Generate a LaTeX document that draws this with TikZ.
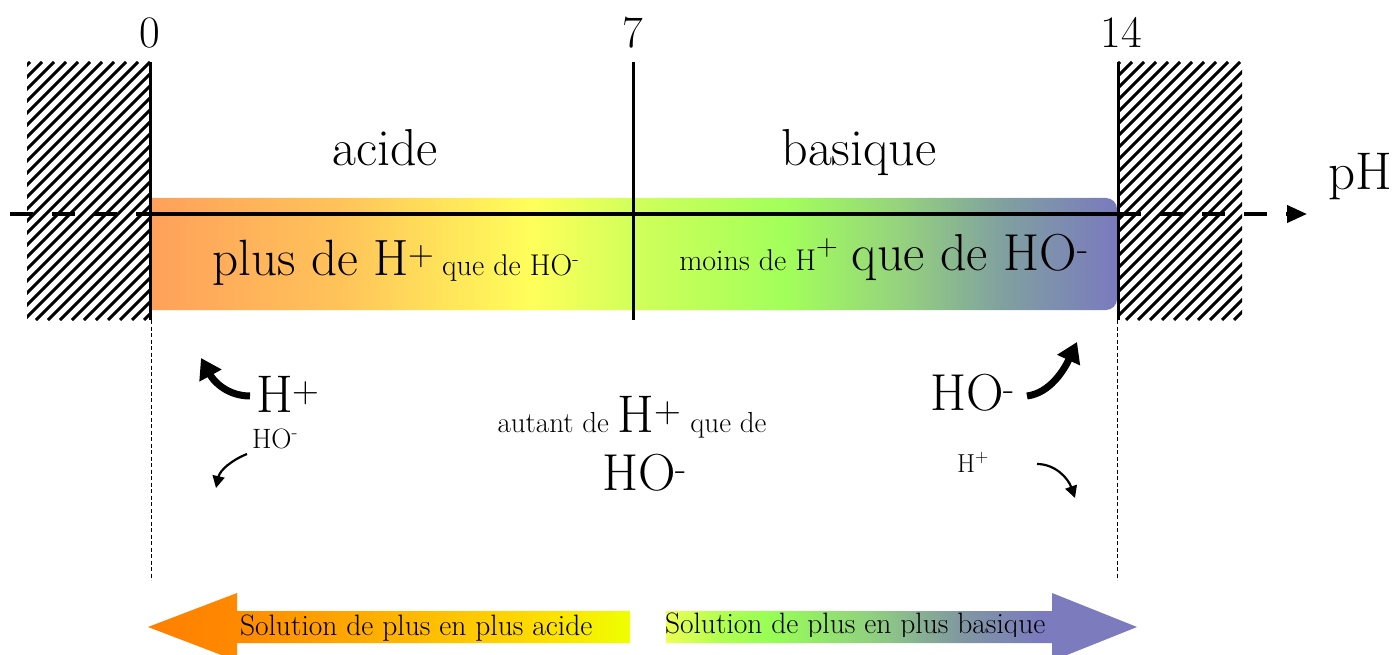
\documentclass[tikz,border=0pt]{standalone}
\usetikzlibrary{arrows.meta}
\definecolor{b1}{HTML}{FFA05A}
\definecolor{b2}{HTML}{FFC35A}
\definecolor{b3}{HTML}{FFFF5A}
\definecolor{b4}{HTML}{D2FF5A}
\definecolor{b5}{HTML}{A2FF5A}
\definecolor{b6}{HTML}{95D27E}
\definecolor{b7}{HTML}{80A0A0}
\definecolor{b8}{HTML}{7A7ABE}
\definecolor{l1}{HTML}{FF7F00}
\definecolor{l2}{HTML}{FF8A00}
\definecolor{l3}{HTML}{FFBB00}
\definecolor{l4}{HTML}{FFDD00}
\definecolor{l5}{HTML}{EEFF00}
\definecolor{r1}{HTML}{EEFF55}
\definecolor{r2}{HTML}{B0FF50}
\definecolor{r3}{HTML}{98FF55}
\definecolor{r4}{HTML}{90D080}
\definecolor{r5}{HTML}{8098A0}
\definecolor{r6}{HTML}{7B7BBE}
\pgfdeclarehorizontalshading{phbar}{100bp}{color(0bp)=(b1); color(25bp)=(b1); color(34.8bp)=(b2); color(44.8bp)=(b3); color(49.9bp)=(b4); color(57.9bp)=(b5); color(63.8bp)=(b6); color(69.1bp)=(b7); color(75bp)=(b8); color(100bp)=(b8)}
\pgfdeclarehorizontalshading{acidarr}{100bp}{color(0bp)=(l1); color(25bp)=(l1); color(34.5bp)=(l2); color(53.2bp)=(l3); color(65.7bp)=(l4); color(75bp)=(l5); color(100bp)=(l5)}
\pgfdeclarehorizontalshading{basarr}{100bp}{color(0bp)=(r1); color(25bp)=(r1); color(31bp)=(r2); color(36bp)=(r3); color(46.7bp)=(r4); color(56.2bp)=(r5); color(64.7bp)=(r6); color(75bp)=(r6); color(100bp)=(r6)}
\newcommand\fsz[1]{\fontsize{#1}{#1}\selectfont}
\begin{document}
\begin{tikzpicture}[x=1pt,y=-1pt,
  txt/.style={inner sep=0pt,outer sep=0pt},
  hatchline/.style={line width=3pt},
  vline/.style={line width=3pt},
  guide/.style={line width=0.9pt,dash pattern=on 4pt off 2.5pt},
  axisdash/.style={line width=4pt,dash pattern=on 23pt off 19pt},
  thickarr/.style={line width=7pt,-{Triangle[length=20pt,width=24pt]}},
  thinarr/.style={line width=2.2pt,-{Triangle[length=12pt,width=12pt]}}]
\useasboundingbox (0,0) rectangle (1397,655);

% hatched zones
\begin{scope}
\clip (27,62) rectangle (150,320);
\foreach \i in {-240,-228,...,160} \draw[hatchline] (\i,320) -- ++(258,-258);
\end{scope}
\begin{scope}
\clip (1118,62) rectangle (1242,320);
\foreach \i in {850,862,...,1250} \draw[hatchline] (\i,320) -- ++(258,-258);
\end{scope}

% gradient bar
\shade[shading=phbar] (150,310) -- (150,198) [rounded corners=11pt] -- (1117,198) -- (1117,310) [sharp corners] -- cycle;

% coordinates
\coordinate (axL) at (10,214);
\coordinate (ax0) at (150,214);
\coordinate (ax14) at (1118,214);
\coordinate (axTip) at (1307,214);
\coordinate (t0) at (150,62);
\coordinate (b0) at (150,320);
\coordinate (t7) at (633,62);
\coordinate (b7) at (633,320);
\coordinate (t14) at (1118,62);
\coordinate (b14) at (1118,320);
\coordinate (g0) at (151,580);
\coordinate (g14) at (1117,580);
\coordinate (g0t) at (151,320);
\coordinate (g14t) at (1117,320);

% axis
\draw[line width=4pt] (ax0) -- (ax14);
\draw[axisdash] (axL) -- (ax0);
\draw[axisdash,-{Triangle[length=20pt,width=17pt]}] (ax14) -- (axTip);

% vertical lines
\draw[vline] (t0) -- (b0);
\draw[vline] (t7) -- (b7);
\draw[vline] (t14) -- (b14);
\draw[guide] (g0t) -- (g0);
\draw[guide] (g14t) -- (g14);

% labels
\node[txt,anchor=base] (n0) at (150,48) {\fsz{45}0};
\node[txt,anchor=base] (n7) at (633,48) {\fsz{45}7};
\node[txt,anchor=base] (n14) at (1121,48) {\fsz{45}14};
\node[txt,anchor=base] (acide) at (385,166) {\fsz{52}acide};
\node[txt,anchor=base] (basique) at (859,166) {\fsz{52}basique};
\node[txt,anchor=base west] (pH) at (1328,190) {\fsz{53}pH};

\node[txt,anchor=base] (plus) at (396,275) {{\fsz{51}plus de H\textsuperscript{+}}\hspace{7pt}{\fsz{30}que de HO\textsuperscript{-}}};
\node[txt,anchor=base] (moins) at (884,270) {{\fsz{30}moins de H\raisebox{0.5em}{+}}\hspace{14pt}{\fsz{52}que de HO\textsuperscript{-}}};

\node[txt,anchor=base west] (Hl) at (256,412) {\fsz{53}H\textsuperscript{+}};
\node[txt,anchor=base west] (HOl) at (252,448) {\fsz{28}HO\textsuperscript{-}};
\node[txt,anchor=base] (aut) at (632,432) {{\fsz{29}autant de }{\fsz{53}H\textsuperscript{+}}{\fsz{29} que de}};
\node[txt,anchor=base] (HOc) at (645,490) {\fsz{52}HO\textsuperscript{-}};
\node[txt,anchor=base west] (HOr) at (930,410) {\fsz{52}HO\textsuperscript{-}};
\node[txt,anchor=base west] (Hr) at (957,472) {\fsz{26}H\textsuperscript{+}};

% curved arrows
\coordinate (a1s) at (250,396);
\coordinate (a1e) at (201,358);
\coordinate (a2s) at (247,454);
\coordinate (a2e) at (216,488);
\coordinate (a3s) at (1027,396);
\coordinate (a3e) at (1077,342);
\coordinate (a4s) at (1037,464);
\coordinate (a4e) at (1075,498);
\draw[thickarr] (a1s) .. controls (228,396) and (214,382) .. (a1e);
\draw[thinarr] (a2s) .. controls (232,460) and (220,470) .. (a2e);
\draw[thickarr] (a3s) .. controls (1050,393) and (1064,370) .. (a3e);
\draw[thinarr] (a4s) .. controls (1055,464) and (1068,478) .. (a4e);

% bottom arrows
\shade[shading=acidarr] (148,627) -- (237,593) -- (237,611) -- (630,611) -- (630,643) -- (237,643) -- (237,661) -- cycle;
\shade[shading=basarr] (666,611) -- (1052,611) -- (1052,593) -- (1137,627) -- (1052,661) -- (1052,643) -- (666,643) -- cycle;
\node[txt,anchor=base west] (solA) at (240,635) {\fsz{29.5}Solution de plus en plus acide};
\begin{scope}
\clip (600,580) rectangle (1150,636);
\node[txt,anchor=base west] (solB) at (665,633) {\fsz{29.5}Solution de plus en plus basique};
\end{scope}
\end{tikzpicture}
\end{document}
